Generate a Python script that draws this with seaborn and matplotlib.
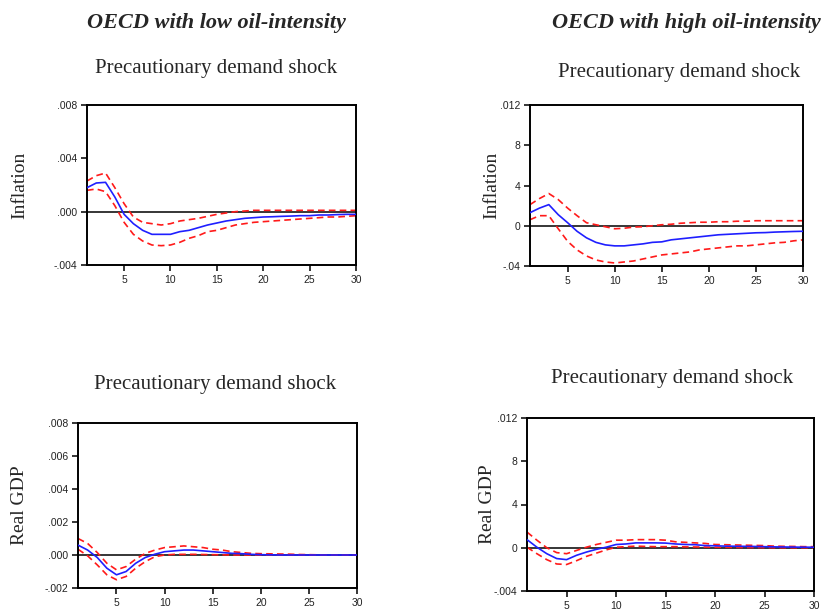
import numpy as np
import pandas as pd
import matplotlib
matplotlib.use("Agg")
import matplotlib.pyplot as plt
import seaborn as sns

periods = list(range(1, 31))

# Panel 1: Inflation, low oil-intensity
infl_low_irf = [0.0018, 0.00215, 0.0022, 0.0011, -0.0002, -0.0009, -0.0014, -0.0017, -0.0017, -0.0017,
                -0.0015, -0.0014, -0.0012, -0.001, -0.00085, -0.0007, -0.0006, -0.0005, -0.00045, -0.0004,
                -0.00038, -0.00035, -0.00033, -0.0003, -0.0003, -0.00025, -0.00025, -0.00022, -0.0002, -0.0002]
infl_low_up = [0.0023, 0.0027, 0.0029, 0.0018, 0.0006, -0.0004, -0.0008, -0.0009, -0.001, -0.0009,
               -0.0007, -0.0006, -0.0005, -0.00035, -0.0002, -0.0001, 0.0, 0.00005, 0.0001, 0.0001,
               0.0001, 0.0001, 0.0001, 0.0001, 0.0001, 0.0001, 0.0001, 0.0001, 0.0001, 0.0001]
infl_low_lo = [0.0016, 0.0017, 0.0015, 0.00045, -0.0008, -0.0017, -0.0022, -0.0025, -0.00255, -0.0025,
               -0.0023, -0.002, -0.0018, -0.0015, -0.0014, -0.0012, -0.001, -0.0009, -0.0008, -0.00075,
               -0.0007, -0.00065, -0.0006, -0.00055, -0.0005, -0.00045, -0.0004, -0.0004, -0.00035, -0.0003]

# Panel 2: Inflation, high oil-intensity
infl_high_irf = [0.0013, 0.00175, 0.0021, 0.0011, 0.0003, -0.00055, -0.0012, -0.00165, -0.0019, -0.002,
                 -0.002, -0.0019, -0.0018, -0.00165, -0.0016, -0.0014, -0.0013, -0.0012, -0.0011, -0.001,
                 -0.0009, -0.00085, -0.0008, -0.00075, -0.0007, -0.00068, -0.00063, -0.0006, -0.00057, -0.00055]
infl_high_up = [0.0021, 0.0027, 0.0032, 0.0026, 0.00175, 0.001, 0.0003, 0.0001, -0.0001, -0.0003,
                -0.00025, -0.00013, -0.0001, 0.0, 0.0001, 0.00015, 0.00025, 0.0003, 0.00035, 0.00035,
                0.0004, 0.0004, 0.00045, 0.00045, 0.0005, 0.0005, 0.0005, 0.0005, 0.0005, 0.0005]
infl_high_lo = [0.0006, 0.001, 0.001, -0.0003, -0.00155, -0.0024, -0.003, -0.0034, -0.0036, -0.0037,
                -0.0036, -0.0035, -0.0033, -0.0031, -0.0029, -0.0028, -0.0027, -0.0026, -0.0024, -0.0023,
                -0.0022, -0.0021, -0.002, -0.002, -0.0019, -0.0018, -0.0017, -0.00165, -0.0015, -0.0014]

# Panel 3: Real GDP, low oil-intensity
gdp_low_irf = [0.0006, 0.0003, -0.00015, -0.0008, -0.0012, -0.001, -0.0005, -0.00015, 0.00005, 0.0002,
               0.00025, 0.0003, 0.0003, 0.00025, 0.0002, 0.00015, 0.0001, 0.00008, 0.00004, 0.00002,
               0.00001, 0.0, 0.0, 0.0, 0.0, 0.0, 0.0, 0.0, 0.0, 0.0]
gdp_low_up = [0.001, 0.0007, 0.00015, -0.0005, -0.0009, -0.0007, -0.00025, 0.0001, 0.0003, 0.00045,
              0.0005, 0.00055, 0.0005, 0.00045, 0.00035, 0.0003, 0.0002, 0.00015, 0.0001, 0.00008,
              0.00007, 0.00006, 0.00005, 0.00003, 0.00002, 0.00001, 0.0, 0.0, 0.0, 0.0]
gdp_low_lo = [0.00035, -0.00005, -0.0006, -0.0012, -0.0015, -0.0013, -0.0008, -0.0004, -0.0001, 0.0,
              0.00004, 0.00004, 0.00004, 0.00003, 0.00002, 0.00001, 0.0, 0.0, 0.0, 0.0,
              0.0, 0.0, 0.0, 0.0, 0.0, 0.0, 0.0, 0.0, 0.0, 0.0]

# Panel 4: Real GDP, high oil-intensity
gdp_high_irf = [0.00075, 0.00005, -0.00055, -0.001, -0.0011, -0.0007, -0.0004, -0.00015, 0.00005, 0.0003,
                0.00035, 0.00045, 0.00045, 0.00045, 0.00043, 0.00035, 0.0003, 0.00028, 0.0002, 0.00018,
                0.00015, 0.00014, 0.00013, 0.00012, 0.0001, 0.00008, 0.00007, 0.00006, 0.00005, 0.00005]
gdp_high_up = [0.00145, 0.0007, 0.0, -0.00045, -0.00055, -0.00025, 0.00005, 0.0003, 0.0005, 0.0007,
               0.0007, 0.00075, 0.00075, 0.00075, 0.0007, 0.00055, 0.0005, 0.00045, 0.0004, 0.0003,
               0.00028, 0.00026, 0.00024, 0.00022, 0.0002, 0.00015, 0.00013, 0.00012, 0.0001, 0.0001]
gdp_high_lo = [0.00005, -0.00055, -0.0011, -0.0015, -0.00155, -0.0012, -0.0008, -0.0005, -0.0002, 0.00005,
               0.0001, 0.00015, 0.00012, 0.0001, 0.0001, 0.0001, 0.00008, 0.00007, 0.00006, 0.00005,
               0.00004, 0.00003, 0.00002, 0.00002, 0.00001, 0.0, 0.0, 0.0, 0.0, 0.0]

column_titles = ["OECD with low oil-intensity", "OECD with high oil-intensity"]
panel_title = "Precautionary demand shock"
row_labels = ["Inflation", "Real GDP"]
x_ticks = [5, 10, 15, 20, 25, 30]

yticks_p1 = [-0.004, 0.0, 0.004, 0.008]
yticklabels_p1 = ["-.004", ".000", ".004", ".008"]
yticks_p2 = [-0.004, 0.0, 0.004, 0.008, 0.012]
yticklabels_p2 = ["-.04", "0", "4", "8", ".012"]
yticks_p3 = [-0.002, 0.0, 0.002, 0.004, 0.006, 0.008]
yticklabels_p3 = ["-.002", ".000", ".002", ".004", ".006", ".008"]
yticks_p4 = [-0.004, 0.0, 0.004, 0.008, 0.012]
yticklabels_p4 = ["-.004", "0", "4", "8", ".012"]

sns.set_theme(style="white")
plt.rcParams["font.family"] = ["Liberation Serif", "DejaVu Serif"]

W, H = 827, 615
fig = plt.figure(figsize=(W / 100, H / 100), dpi=100)
fig.patch.set_facecolor("white")


def px_axes(left, top, right, bottom):
    return fig.add_axes([left / W, 1 - bottom / H, (right - left) / W, (bottom - top) / H])


panels = [
    dict(box=(87, 105, 356, 265), irf=infl_low_irf, up=infl_low_up, lo=infl_low_lo,
         ylim=(-0.004, 0.008), yt=yticks_p1, ytl=yticklabels_p1, ylabel=row_labels[0],
         title_xy=(216, 68), ylabel_x=20),
    dict(box=(530, 105, 803, 266), irf=infl_high_irf, up=infl_high_up, lo=infl_high_lo,
         ylim=(-0.004, 0.012), yt=yticks_p2, ytl=yticklabels_p2, ylabel=row_labels[0],
         title_xy=(679, 72), ylabel_x=492),
    dict(box=(78, 423, 357, 588), irf=gdp_low_irf, up=gdp_low_up, lo=gdp_low_lo,
         ylim=(-0.002, 0.008), yt=yticks_p3, ytl=yticklabels_p3, ylabel=row_labels[1],
         title_xy=(215, 385), ylabel_x=20),
    dict(box=(527, 418, 814, 591), irf=gdp_high_irf, up=gdp_high_up, lo=gdp_high_lo,
         ylim=(-0.004, 0.012), yt=yticks_p4, ytl=yticklabels_p4, ylabel=row_labels[1],
         title_xy=(672, 378), ylabel_x=487),
]

for p in panels:
    ax = px_axes(*p["box"])
    df = pd.DataFrame({"period": periods, "irf": p["irf"], "up": p["up"], "lo": p["lo"]})
    ax.axhline(0, color="black", lw=1.1, zorder=1)
    sns.lineplot(data=df, x="period", y="up", ax=ax, color="#ff1a1a", lw=1.2,
                 linestyle=(0, (4, 2.5)), zorder=2)
    sns.lineplot(data=df, x="period", y="lo", ax=ax, color="#ff1a1a", lw=1.2,
                 linestyle=(0, (4, 2.5)), zorder=2)
    sns.lineplot(data=df, x="period", y="irf", ax=ax, color="#1f1fff", lw=1.2, zorder=3)
    ax.set_xlim(1, 30)
    ax.set_ylim(*p["ylim"])
    ax.set_xticks(x_ticks)
    ax.set_xticklabels([str(t) for t in x_ticks], fontsize=7.5, family="Liberation Sans",
                       color="#222222")
    ax.set_yticks(p["yt"])
    ax.set_yticklabels(p["ytl"], fontsize=7.5, family="Liberation Sans", color="#222222")
    ax.tick_params(axis="both", direction="out", length=4, width=1.1, color="black",
                   left=True, bottom=True, pad=3)
    ax.set_xlabel("")
    ax.set_ylabel("")
    for s in ax.spines.values():
        s.set_color("black")
        s.set_linewidth(1.4)
    fig.text(p["ylabel_x"] / W, 1 - ((p["box"][1] + p["box"][3]) / 2) / H, p["ylabel"],
             rotation=90, ha="center", va="center", fontsize=14)
    fig.text(p["title_xy"][0] / W, 1 - p["title_xy"][1] / H, panel_title,
             ha="center", va="center", fontsize=15)

fig.text(216 / W, 1 - 23 / H, column_titles[0], ha="center", va="center",
         fontsize=16, fontweight="bold", fontstyle="italic")
fig.text(686 / W, 1 - 23 / H, column_titles[1], ha="center", va="center",
         fontsize=16, fontweight="bold", fontstyle="italic")

fig.savefig("out.png", dpi=100, facecolor="white")
